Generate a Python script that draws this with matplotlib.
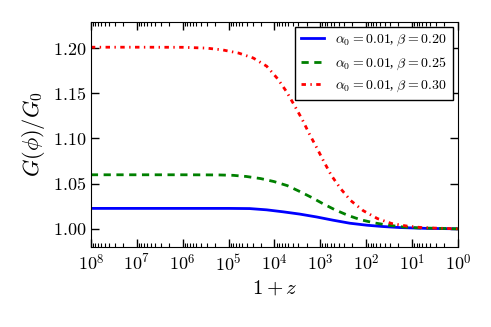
import numpy as np
import matplotlib
matplotlib.use("Agg")
import matplotlib.pyplot as plt
from matplotlib.ticker import FormatStrFormatter, FuncFormatter, NullFormatter

plt.rcParams['font.family'] = 'serif'
plt.rcParams['font.serif'] = ['Liberation Serif', 'DejaVu Serif']
plt.rcParams['mathtext.fontset'] = 'cm'

# log10(1+z) and G(phi)/G0
lz_blue = [8.0, 7.0, 6.0, 5.0, 4.54, 4.17, 3.81, 3.45, 3.08, 2.72, 2.36, 1.99, 1.63, 1.27, 0.7, 0.0]
g_blue = [1.0226, 1.0226, 1.0226, 1.0226, 1.0224, 1.0210, 1.0188, 1.0163, 1.0131, 1.0095, 1.0062,
          1.0040, 1.0025, 1.0014, 1.0005, 1.0000]

lz_green = [8.0, 7.0, 6.0, 5.48, 5.19, 4.90, 4.61, 4.30, 4.01, 3.72, 3.47, 3.19, 2.94, 2.68, 2.39,
            2.12, 1.83, 1.52, 1.2, 0.85, 0.0]
g_green = [1.0598, 1.0598, 1.0598, 1.0597, 1.0596, 1.0592, 1.0579, 1.0556, 1.0523, 1.0478, 1.0418,
           1.0347, 1.0277, 1.0210, 1.0147, 1.0100, 1.0066, 1.0040, 1.0020, 1.0010, 1.0000]

lz_red = [8.0, 7.0, 6.0, 5.48, 5.13, 4.78, 4.46, 4.17, 3.93, 3.74, 3.57, 3.40, 3.24, 3.08, 2.92,
          2.76, 2.56, 2.34, 2.07, 1.76, 1.45, 1.11, 0.76, 0.0]
g_red = [1.2010, 1.2010, 1.2009, 1.2000, 1.1980, 1.1945, 1.1890, 1.1800, 1.1660, 1.1520, 1.1370,
         1.1215, 1.1050, 1.0898, 1.0740, 1.0590, 1.0445, 1.0313, 1.0202, 1.0114, 1.0059, 1.0030,
         1.0012, 1.0000]

labels = [r'$\alpha_0=0.01$, $\beta=0.20$',
          r'$\alpha_0=0.01$, $\beta=0.25$',
          r'$\alpha_0=0.01$, $\beta=0.30$']

xexp = np.arange(0, 9)
yticks = [1.00, 1.05, 1.10, 1.15, 1.20]

fig = plt.figure(figsize=(4.91, 3.27), dpi=100)
ax = fig.add_axes([0.185, 0.245, 0.748, 0.688])

ax.plot(10 ** np.array(lz_blue), g_blue, color='blue', lw=2, label=labels[0])
ax.plot(10 ** np.array(lz_green), g_green, color='green', lw=2, ls=(0, (2.6, 2.0)), label=labels[1])
ax.plot(10 ** np.array(lz_red), g_red, color='red', lw=2, ls=(0, (1.6, 1.6, 0.5, 1.6)), label=labels[2])

ax.set_xscale('log')
ax.set_xlim(1e8, 1e0)
ax.set_ylim(0.98, 1.229)
ax.set_yticks(yticks)
ax.yaxis.set_major_formatter(FormatStrFormatter(r'$%.2f$'))

minor = [m * 10.0 ** e for e in xexp[:-1] for m in range(2, 10)]
ax.set_xticks(10.0 ** xexp)
ax.set_xticks(minor, minor=True)
ax.xaxis.set_major_formatter(FuncFormatter(lambda v, p: r'$10^{%d}$' % round(np.log10(v))))
ax.xaxis.set_minor_formatter(NullFormatter())

ax.tick_params(which='both', direction='in', top=True, right=True, labelsize=13)
ax.tick_params(which='major', length=6, width=1)
ax.tick_params(which='minor', length=3, width=0.8)
ax.tick_params(axis='x', pad=5)

ax.set_xlabel(r'$1+z$', fontsize=15)
ax.set_ylabel(r'$G(\phi)/G_0$', fontsize=16)

leg = ax.legend(loc='upper right', fontsize=10, fancybox=False, edgecolor='black',
                framealpha=1, handlelength=1.7, borderaxespad=0.4)
leg.get_frame().set_linewidth(1)

plt.savefig('out.png', dpi=100)
